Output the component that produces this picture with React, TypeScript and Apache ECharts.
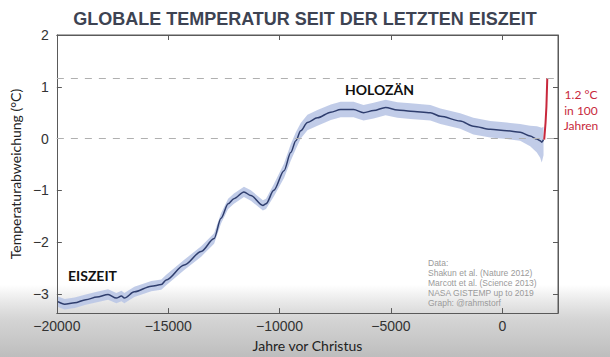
import React, { useEffect, useRef } from "react";
import * as echarts from "echarts";

const titleText = "GLOBALE TEMPERATUR SEIT DER LETZTEN EISZEIT";
const xTicks = [-20000, -15000, -10000, -5000, 0];
const yTicks = [-3, -2, -1, 0, 1, 2];
const refLines = [1.17, 0];
const xRange = [-20000, 2500];
const yRange = [-3.37, 2];

const years = [
  -19950, -19650, -19200, -18700, -18200, -17700, -17330, -17100, -16970, -16520,
  -15760, -15310, -15090, -14280, -13520, -12940, -12630, -12310, -12050, -11600,
  -11290, -10750, -10610, -10260, -9800, -9500, -9270, -9050, -8750, -8300,
  -7700, -7260, -6680, -6230, -5780, -5240, -4710, -4120, -3230, -2780,
  -1890, -1300, -540, 200, 800, 1250, 1550, 1700, 1770, 1850,
];
const temps = [
  -3.15, -3.2, -3.17, -3.11, -3.06, -3.01, -3.08, -3.04, -3.08, -2.96,
  -2.85, -2.82, -2.73, -2.44, -2.18, -1.93, -1.54, -1.26, -1.16, -1.03,
  -1.1, -1.29, -1.26, -1.0, -0.62, -0.27, -0.04, 0.15, 0.31, 0.4,
  0.51, 0.56, 0.56, 0.5, 0.54, 0.6, 0.55, 0.53, 0.5, 0.43,
  0.34, 0.24, 0.18, 0.15, 0.12, 0.05, -0.01, -0.04, -0.07, -0.02,
];
const errUp = [
  0.1, 0.1, 0.1, 0.1, 0.1, 0.1, 0.1, 0.1, 0.1, 0.1,
  0.1, 0.1, 0.1, 0.1, 0.1, 0.1, 0.1, 0.1, 0.1, 0.1,
  0.1, 0.1, 0.1, 0.12, 0.14, 0.16, 0.16, 0.15, 0.15, 0.15,
  0.15, 0.15, 0.15, 0.15, 0.15, 0.15, 0.15, 0.15, 0.15, 0.15,
  0.15, 0.16, 0.16, 0.16, 0.16, 0.2, 0.25, 0.26, 0.28, 0.25,
];
const errDown = [
  0.1, 0.1, 0.1, 0.1, 0.1, 0.1, 0.1, 0.1, 0.1, 0.1,
  0.1, 0.1, 0.1, 0.1, 0.1, 0.1, 0.1, 0.1, 0.1, 0.1,
  0.1, 0.1, 0.1, 0.12, 0.14, 0.16, 0.16, 0.15, 0.15, 0.15,
  0.15, 0.15, 0.15, 0.15, 0.15, 0.15, 0.15, 0.15, 0.15, 0.15,
  0.15, 0.16, 0.16, 0.16, 0.16, 0.2, 0.26, 0.33, 0.39, 0.3,
];

const modernYears = [1880, 1940, 1980, 2019];
const modernTemps = [-0.02, 0.3, 0.62, 1.17];

const creditLines = [
  "Data:",
  "Shakun et al. (Nature 2012)",
  "Marcott et al. (Science 2013)",
  "NASA GISTEMP up to 2019",
  "Graph: @rahmstorf",
];
const redLabelLines = ["1.2 °C", "in 100", "Jahren"];

const fmt = (v: number) => (v < 0 ? "\u2212" + Math.abs(v) : String(v));

const AXIS_COLOR = "#5a5a5a";
const mkLine = () => ({ show: true, onZero: false, lineStyle: { color: AXIS_COLOR, width: 1 } });
const mkTick = () => ({ show: true, inside: true, length: 5, lineStyle: { color: AXIS_COLOR, width: 1 } });

export default function App() {
  const ref = useRef<HTMLDivElement>(null);
  useEffect(() => {
    if (!ref.current) return;
    const chart = echarts.init(ref.current, null, { renderer: "svg" });
    chart.setOption({
      animation: false,
      backgroundColor: "#ffffff",
      title: {
        text: titleText,
        left: "center",
        top: 5,
        textStyle: { fontSize: 18, fontWeight: "bold", color: "#3d4352", fontFamily: "Liberation Sans" },
      },
      grid: { left: 55, right: 52, top: 35, bottom: 42 },
      xAxis: [
        {
          type: "value",
          min: xRange[0],
          max: xRange[1],
          interval: 5000,
          position: "bottom",
          axisLine: mkLine(),
          axisTick: mkTick(),
          splitLine: { show: false },
          axisLabel: {
            margin: 6,
            fontSize: 14,
            color: "#333",
            fontFamily: "Liberation Sans",
            formatter: (v: number) => (xTicks.includes(v) ? fmt(v) : ""),
          },
          name: "Jahre vor Christus",
          nameLocation: "middle",
          nameGap: 24,
          nameTextStyle: { fontSize: 14, color: "#222", fontFamily: "Lato" },
        },
        {
          type: "value",
          min: xRange[0],
          max: xRange[1],
          interval: 5000,
          position: "top",
          axisLine: mkLine(),
          axisTick: mkTick(),
          splitLine: { show: false },
          axisLabel: { show: false },
        },
      ],
      yAxis: [
        {
          type: "value",
          min: yRange[0],
          max: yRange[1],
          splitNumber: 5,
          position: "left",
          axisLine: mkLine(),
          axisTick: mkTick(),
          splitLine: { show: false },
          axisLabel: {
            margin: 8,
            fontSize: 14,
            color: "#333",
            fontFamily: "Liberation Sans",
            formatter: (v: number) => (yTicks.includes(v) ? fmt(v) : ""),
          },
          name: "Temperaturabweichung (°C)",
          nameLocation: "middle",
          nameGap: 27,
          nameTextStyle: { fontSize: 14, color: "#222", fontFamily: "Lato" },
        },
        {
          type: "value",
          min: yRange[0],
          max: yRange[1],
          splitNumber: 5,
          position: "right",
          axisLine: mkLine(),
          axisTick: mkTick(),
          splitLine: { show: false },
          axisLabel: { show: false },
        },
      ],
      series: [
        {
          type: "custom",
          xAxisIndex: 0,
          yAxisIndex: 0,
          clip: true,
          z: 1,
          silent: true,
          data: [[years[0], temps[0]]],
          renderItem: (_params: any, api: any) => {
            const pts: number[][] = years.map((y, i) => api.coord([y, temps[i] + errUp[i]]));
            for (let i = years.length - 1; i >= 0; i--) {
              pts.push(api.coord([years[i], temps[i] - errDown[i]]));
            }
            return { type: "polygon", shape: { points: pts }, style: { fill: "#bac6e6", opacity: 0.9 } };
          },
        },
        {
          type: "line",
          xAxisIndex: 0,
          yAxisIndex: 0,
          z: 2,
          data: years.map((y, i) => [y, temps[i]]),
          showSymbol: false,
          smooth: 0.3,
          smoothMonotone: "x",
          lineStyle: { color: "#2f3e6e", width: 1.5 },
          markLine: {
            silent: true,
            symbol: "none",
            label: { show: false },
            lineStyle: { color: "#b0b0b0", type: [7, 7], width: 1 },
            data: refLines.map((v) => ({ yAxis: v })),
          },
        },
        {
          type: "line",
          xAxisIndex: 0,
          yAxisIndex: 0,
          z: 3,
          data: modernYears.map((y, i) => [y, modernTemps[i]]),
          showSymbol: false,
          lineStyle: { color: "#c8283c", width: 2 },
        },
        {
          type: "line",
          xAxisIndex: 0,
          yAxisIndex: 0,
          z: 10,
          clip: false,
          silent: true,
          showSymbol: false,
          data: [
            [xRange[0], yRange[1]],
            [xRange[1], yRange[1]],
            [xRange[1], yRange[0]],
          ],
          lineStyle: { color: AXIS_COLOR, width: 1 },
        },
      ],
      graphic: {
        elements: [
          {
            type: "rect",
            z: -100,
            silent: true,
            shape: { x: 0, y: 285, width: 610, height: 72 },
            style: {
              fill: new echarts.graphic.LinearGradient(0, 0, 0, 1, [
                { offset: 0, color: "rgba(190,190,190,0)" },
                { offset: 0.5, color: "rgba(200,200,200,0.8)" },
                { offset: 1, color: "#bdbdbd" },
              ]),
            },
          },
          {
            type: "text",
            left: 345,
            top: 82,
            style: { text: "HOLOZÄN", fontSize: 14, fontWeight: "bold", fill: "#111", fontFamily: "Lato" },
          },
          {
            type: "text",
            left: 68,
            top: 268,
            style: { text: "EISZEIT", fontSize: 14, fontWeight: "bold", fill: "#111", fontFamily: "Lato" },
          },
          {
            type: "text",
            left: 428,
            top: 258,
            style: {
              text: creditLines.join("\n"),
              fontSize: 8.5,
              lineHeight: 10,
              fill: "#9a9a9a",
              fontFamily: "Liberation Sans",
            },
          },
          {
            type: "text",
            x: 581,
            y: 87,
            style: {
              text: redLabelLines.join("\n"),
              fontSize: 12,
              lineHeight: 15.5,
              fill: "#c8283c",
              align: "center",
              fontFamily: "Lato",
            },
          },
        ],
      },
    });
    return () => chart.dispose();
  }, []);
  return <div ref={ref} style={{ position: "fixed", left: 0, top: 0, width: 610, height: 357 }} />;
}
